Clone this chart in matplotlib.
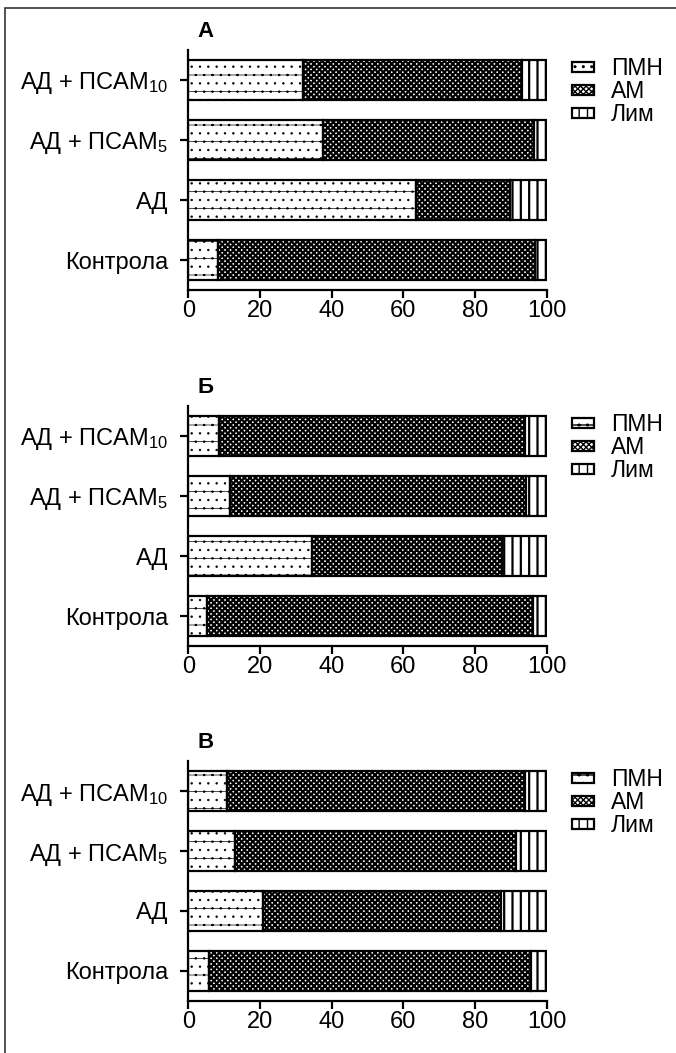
import matplotlib
matplotlib.use("Agg")
import matplotlib.pyplot as plt
from matplotlib.patches import Rectangle, Patch

# Cell composition (%) per group, stacked left to right: ПМН, АМ, Лим
groups = ["Контрола", "АД", "АД + ПСАМ$_5$", "АД + ПСАМ$_{10}$"]
series_names = ["ПМН", "АМ", "Лим"]
panel_titles = ["А", "Б", "В"]

pmn_a = [8.4, 63.6, 37.5, 32.1]
am_a = [88.2, 26.1, 58.9, 61.0]
lim_a = [3.4, 10.3, 3.6, 6.9]

pmn_b = [5.1, 34.4, 11.5, 8.7]
am_b = [91.1, 53.1, 82.8, 85.2]
lim_b = [3.8, 12.5, 5.7, 6.1]

pmn_c = [5.9, 20.8, 13.0, 10.8]
am_c = [89.8, 66.5, 78.5, 83.1]
lim_c = [4.3, 12.7, 8.5, 6.1]

x_ticks = [0, 20, 40, 60, 80, 100]

panels = [(pmn_a, am_a, lim_a), (pmn_b, am_b, lim_b), (pmn_c, am_c, lim_c)]

plt.rcParams["font.family"] = ["Liberation Sans", "DejaVu Sans"]
plt.rcParams["mathtext.fontset"] = "custom"
plt.rcParams["mathtext.rm"] = "Liberation Sans"
plt.rcParams["mathtext.it"] = "Liberation Sans"
plt.rcParams["mathtext.default"] = "regular"

W, H = 676, 1053
fig = plt.figure(figsize=(W / 100, H / 100), dpi=100)

styles = [
    dict(hatch="..-", hlw=0.5),
    dict(hatch="xxxxxx", hlw=1.6),
    dict(hatch="||", hlw=1.6),
]

FS = 17
ax_left, ax_right = 188.3, 546.7
ax_tops = [50, 406, 761]
ax_h = 240

for (pmn, am, lim), top, title in zip(panels, ax_tops, panel_titles):
    ax = fig.add_axes([ax_left / W, 1 - (top + ax_h) / H,
                       (ax_right - ax_left) / W, ax_h / H])
    ypos = list(range(len(groups)))
    left = [0.0] * len(groups)
    handles = []
    for vals, name, st in zip((pmn, am, lim), series_names, styles):
        with plt.rc_context({"hatch.linewidth": st["hlw"]}):
            ax.barh(ypos, vals, left=left, height=0.68, color="white",
                    edgecolor="black", linewidth=1.6, hatch=st["hatch"])
            handles.append(Patch(facecolor="white", edgecolor="black",
                                 linewidth=1.6, hatch=st["hatch"], label=name))
        left = [l + v for l, v in zip(left, vals)]

    ax.set_xlim(0, 100)
    ax.set_ylim(-0.5, 3.5)
    ax.set_yticks(ypos)
    ax.set_yticklabels(groups)
    ax.set_xticks(x_ticks)
    for side in ("top", "right"):
        ax.spines[side].set_visible(False)
    for side in ("left", "bottom"):
        ax.spines[side].set_linewidth(1.6)
    ax.tick_params(axis="both", length=5.5, width=1.6, labelsize=FS)
    ax.tick_params(axis="y", pad=9)
    ax.tick_params(axis="x", pad=1.5)
    ax.set_facecolor("none")

    ax.text(0.049, 1.079, title, transform=ax.transAxes, ha="center",
            va="center", fontsize=16, fontweight="bold")

    ax.legend(handles=handles, loc="upper left",
              bbox_to_anchor=(1.07, 0.97), frameon=False, fontsize=16.5,
              handlelength=0.95, handleheight=0.3, handletextpad=0.75,
              labelspacing=0.0, borderpad=0, borderaxespad=0)

# outer frame
fig.add_artist(Rectangle((5 / W, -0.1), 2.0, 1.1 - 8 / H,
                         transform=fig.transFigure, fill=False,
                         edgecolor="#333333", linewidth=1.2, clip_on=False))

fig.savefig("out.png", dpi=100)
